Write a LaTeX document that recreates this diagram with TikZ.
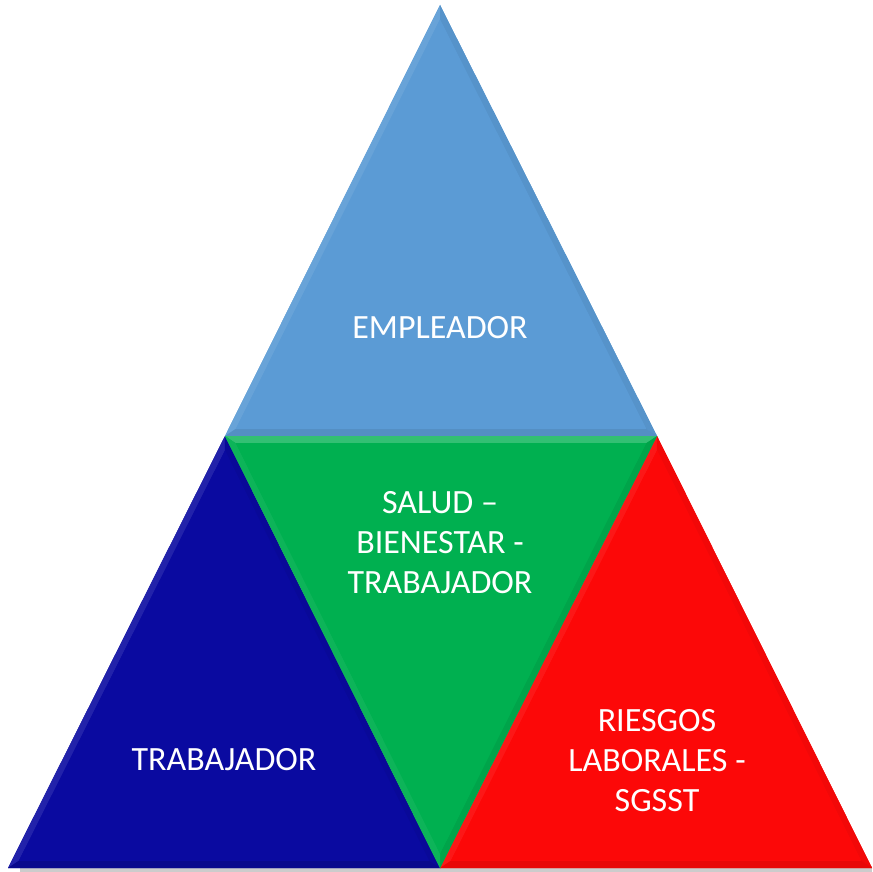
\documentclass[tikz,border=0pt]{standalone}
\usepackage{fontspec}
\setmainfont{Carlito}
\usetikzlibrary{calc}
\definecolor{cTop}{RGB}{91,155,213}
\definecolor{cGreen}{RGB}{0,176,80}
\definecolor{cNavy}{RGB}{10,10,160}
\definecolor{cRed}{RGB}{252,8,8}
% #1 #2 #3 vertices, #4 colour, #5 #6 #7 band tints
\newcommand\bevtri[7]{%
  \fill[#4] (#1)--(#2)--(#3)--cycle;
  \coordinate (g) at (barycentric cs:#1=1,#2=1,#3=1);
  \coordinate (i1) at ($(#1)!0.05!(g)$);
  \coordinate (i2) at ($(#2)!0.05!(g)$);
  \coordinate (i3) at ($(#3)!0.05!(g)$);
  \fill[#5] (#1)--(#2)--(i2)--(i1)--cycle;
  \fill[#6] (#2)--(#3)--(i3)--(i2)--cycle;
  \fill[#7] (#3)--(#1)--(i1)--(i3)--cycle;
  \fill[#4] (i1)--(i2)--(i3)--cycle;
}
\begin{document}
\begin{tikzpicture}[x=1pt,y=-1pt,
  lbl/.style={text=white,font=\fontsize{34}{40}\selectfont,align=center}]
\useasboundingbox (0,0) rectangle (872,872);
\coordinate (apex) at (440,5);
\coordinate (ml) at (225,436);
\coordinate (mr) at (657,436);
\coordinate (bl) at (8,868);
\coordinate (bm) at (440,868);
\coordinate (br) at (872,868);
% shadow strip
\fill[black!20] (20,866) rectangle (872,872);
% top blue
\bevtri{ml}{apex}{mr}{cTop}{cTop!92!white}{cTop!95!black}{cTop!92!black}
% left navy
\bevtri{bl}{ml}{bm}{cNavy}{cNavy!90!white}{cNavy!95!black}{cNavy!88!black}
% right red
\bevtri{bm}{mr}{br}{cRed}{cRed!94!white}{cRed!96!black}{cRed!92!black}
% middle green (inverted)
\bevtri{ml}{mr}{bm}{cGreen}{cGreen!80!white}{cGreen!93!black}{cGreen!95!white}
\node[lbl] (emp) at (440,328) {EMPLEADOR};
\node[lbl] (sal) at (440,543) {SALUD –\\BIENESTAR -\\TRABAJADOR};
\node[lbl] (tra) at (224,760) {TRABAJADOR};
\node[lbl] (rie) at (657,761) {RIESGOS\\LABORALES -\\SGSST};
\end{tikzpicture}
\end{document}
